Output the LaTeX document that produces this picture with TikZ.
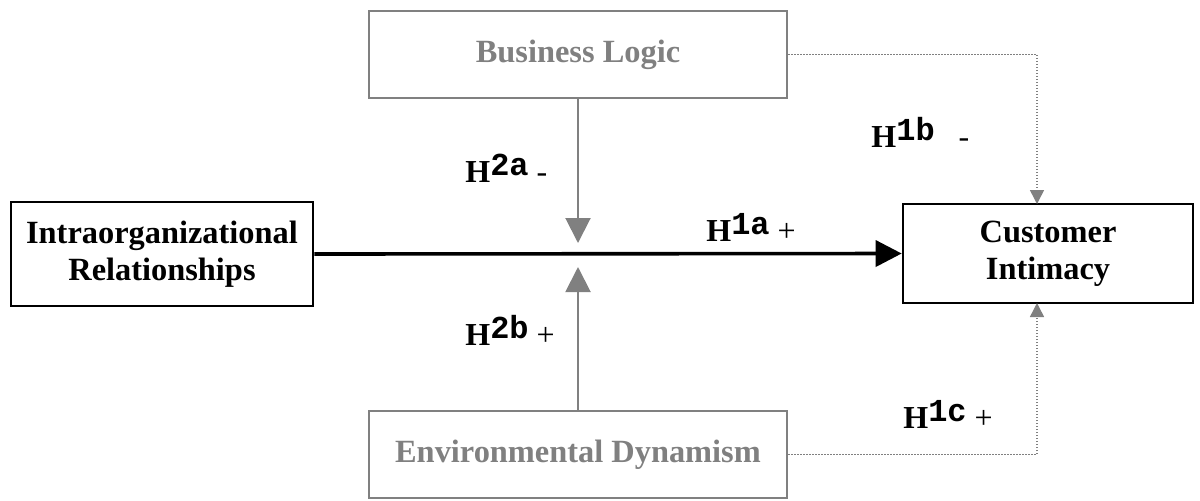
\documentclass[tikz,border=0pt]{standalone}
\usepackage{fontspec}
\setmainfont{Liberation Serif}
\newfontfamily\hypmono{Liberation Mono}
\usetikzlibrary{arrows.meta}
\definecolor{modgray}{RGB}{128,128,128}
\newcommand{\hyp}[2]{\textbf{H}\raisebox{3.5pt}{\hypmono\bfseries #1}#2}
\begin{document}
\begin{tikzpicture}[x=0.5pt,y=-0.5pt,
    construct/.style={draw,line width=1.3pt,align=center,
      font=\fontsize{16.2}{18.5}\selectfont\bfseries},
    moderator/.style={construct,draw=modgray,text=modgray,
      minimum width=209pt,minimum height=43.5pt},
    hyplabel/.style={anchor=base west,inner sep=0pt,
      font=\fontsize{16}{18}\selectfont}]
  \useasboundingbox (0,0) rectangle (1200,500);
  \draw
    (162,254) node[construct,minimum width=151pt,minimum height=52pt] (intra){Intraorganizational\\Relationships}
    (1048,253.5) node[construct,minimum width=145pt,minimum height=49.5pt] (cust){Customer\\Intimacy}
    (578,54.5) node[moderator] (biz){Business Logic}
    (578,454.5) node[moderator] (env){Environmental Dynamism};
  \coordinate (meettop) at (578,243);
  \coordinate (meetbot) at (578,267);
  \coordinate (citop) at (1037,204);
  \coordinate (cibot) at (1037,303);
  \begin{scope}[line width=1.8pt]
    \draw[-{Triangle[length=13pt,width=13pt]}] (intra.east) to (cust.west);
  \end{scope}
  \begin{scope}[modgray,line width=1pt,-{Triangle[length=12.5pt,width=12.5pt]}]
    \draw (biz.south) to (meettop);
    \draw (env.north) to (meetbot);
  \end{scope}
  \begin{scope}[modgray,line width=0.75pt,dash pattern=on 0.75pt off 0.75pt,
      -{Triangle[length=7pt,width=7pt]}]
    \draw (biz.east) -| (citop);
    \draw (env.east) -| (cibot);
  \end{scope}
  \node[hyplabel] (h1b) at (871,147) {\hyp{1b}{\hspace{12pt}-}};
  \node[hyplabel] (h2a) at (465,182) {\hyp{2a}{ -}};
  \node[hyplabel] (h1a) at (706,241) {\hyp{1a}{ +}};
  \node[hyplabel] (h2b) at (465,345) {\hyp{2b}{ +}};
  \node[hyplabel] (h1c) at (903,428) {\hyp{1c}{ +}};
\end{tikzpicture}
\end{document}
